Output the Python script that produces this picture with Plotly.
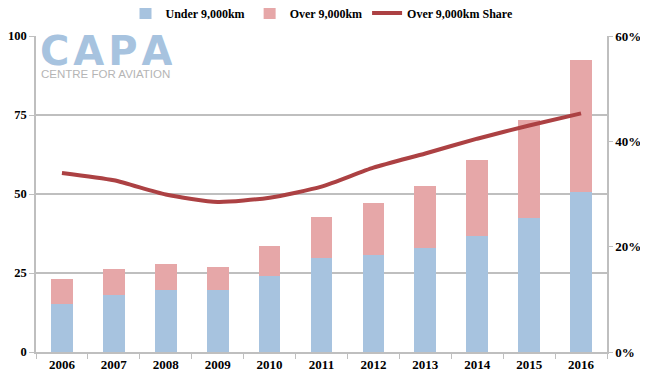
import plotly.graph_objects as go

years = ["2006", "2007", "2008", "2009", "2010", "2011", "2012", "2013", "2014", "2015", "2016"]
under_9000 = [15.3, 17.9, 19.5, 19.5, 23.9, 29.6, 30.8, 33.0, 36.6, 42.3, 50.6]
total = [23.2, 26.3, 27.7, 27.0, 33.7, 42.8, 47.2, 52.6, 60.8, 73.3, 92.5]
over_9000 = [round(t - u, 1) for t, u in zip(total, under_9000)]
over_share = [34.0, 32.6, 29.9, 28.5, 29.3, 31.4, 35.0, 37.7, 40.5, 43.0, 45.3]
left_ticks = [0, 25, 50, 75, 100]
right_ticks = [0, 20, 40, 60]
right_labels = ["0%", "20%", "40%", "60%"]

FONT = "Liberation Serif"
GRID = "#BFBFBF"
TICKFONT = dict(family=FONT, size=13, weight="bold", color="black")
YTICKFONT = dict(family=FONT, size=12.5, weight="bold", color="black")

# the page body adds an 8px offset; figure is sized so it fills the 648x381 window
W, H = 640, 373
ML, MR, MT, MB = 28, 41, 28, 29

fig = go.Figure()
fig.add_trace(go.Bar(x=years, y=under_9000, name="Under 9,000km",
                     marker=dict(color="#A7C3DF", line=dict(width=0))))
fig.add_trace(go.Bar(x=years, y=over_9000, name="Over 9,000km",
                     marker=dict(color="#E6A7A8", line=dict(width=0))))
fig.add_trace(go.Scatter(x=years, y=over_share, name="Over 9,000km Share", yaxis="y2",
                         mode="lines", line=dict(color="#AC4143", width=4, shape="spline", smoothing=0.6)))

fig.update_layout(
    width=W, height=H,
    margin=dict(l=ML, r=MR, t=MT, b=MB, autoexpand=False),
    barmode="stack", bargap=0.58,
    plot_bgcolor="white", paper_bgcolor="white",
    font=dict(family=FONT, size=12, color="black"),
    showlegend=True,
    legend=dict(orientation="h", x=(322 - 8) / W, xanchor="center", y=1 - 5 / H, yanchor="middle",
                yref="container", xref="container", traceorder="normal",
                font=dict(family=FONT, size=12, weight="bold"),
                itemwidth=30, bgcolor="rgba(0,0,0,0)"),
    xaxis=dict(type="category", showline=True, linecolor=GRID, linewidth=1.5,
               ticks="outside", tickson="boundaries", ticklen=5, tickcolor=GRID,
               tickfont=TICKFONT, showgrid=False),
    yaxis=dict(range=[0, 100], tickvals=left_ticks, showgrid=True, gridcolor=GRID,
               gridwidth=1.5, showline=True, linecolor=GRID, linewidth=1.5,
               ticks="outside", ticklen=5, tickcolor=GRID, zeroline=False,
               tickfont=YTICKFONT),
    yaxis2=dict(range=[0, 60], tickvals=right_ticks, ticktext=right_labels, overlaying="y",
                side="right", showgrid=False, showline=True, linecolor=GRID, linewidth=1.5,
                ticks="outside", ticklen=4, tickcolor=GRID, zeroline=False,
                tickfont=TICKFONT),
)

pw, ph = W - ML - MR, H - MT - MB
def px(xp):
    return (xp - 8 - ML) / pw
def py(yp):
    return (H - MB - (yp - 8)) / ph

hs = "\u200a"
fig.add_annotation(text="<b>C" + hs + "A" + hs + "P" + hs + "A</b>", x=px(38), y=py(51), xref="paper", yref="paper",
                   xanchor="left", yanchor="middle", showarrow=False, height=34,
                   font=dict(family="DejaVu Sans", size=40, color="#A7C3DF"))
fig.add_annotation(text="CENTRE FOR AVIATION", x=px(39), y=py(74), xref="paper", yref="paper",
                   xanchor="left", yanchor="middle", showarrow=False,
                   font=dict(family="Liberation Sans", size=11.5, color="#B5B5B5"))

fig.write_html("out.html")
